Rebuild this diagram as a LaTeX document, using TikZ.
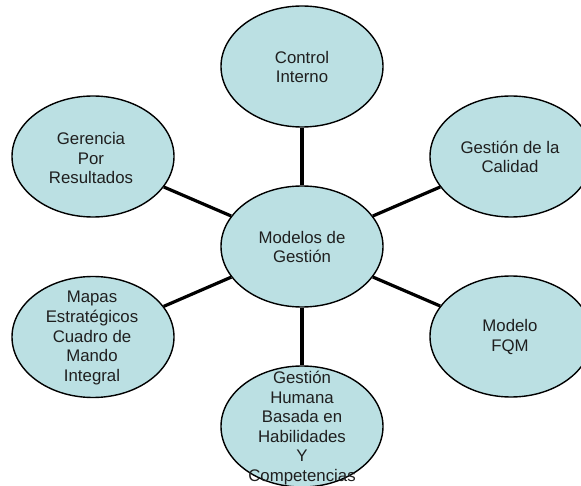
\documentclass[tikz,border=0pt]{standalone}
\usepackage{fontspec}
\setmainfont{Liberation Sans}
\usetikzlibrary{shapes.geometric}
\definecolor{bubble}{RGB}{187,224,227}
\tikzset{
  bub/.style={ellipse, draw=black, line width=1.4pt, fill=bubble,
    minimum width=162pt, minimum height=121pt, inner sep=0pt},
  lbl/.style={align=center, font=\fontsize{16.8}{19.6}\selectfont, text=black!88, inner sep=0pt},
  conn/.style={line width=3.2pt, black}
}
\begin{document}
\begin{tikzpicture}[x=1pt,y=-1pt]
\useasboundingbox (0,0) rectangle (581,486);
\clip (0,0) rectangle (581,486);
\fill[white] (0,0) rectangle (581,486);
% ellipses
\node[bub] (M) at (302,246.5) {};
\node[bub] (C) at (302,66.5) {};
\node[bub] (G) at (93,156.5) {};
\node[bub] (Q) at (511,156.5) {};
\node[bub] (P) at (93,337) {};
\node[bub] (F) at (511,336.5) {};
\node[bub] (H) at (302,426.5) {};
% connectors
\draw[conn] (M) -- (C);
\draw[conn] (M) -- (G);
\draw[conn] (M) -- (Q);
\draw[conn] (M) -- (P);
\draw[conn] (M) -- (F);
\draw[conn] (M) -- (H);
% labels
\node[lbl] (Mt) at (302,247) {Modelos de\\Gestión};
\node[lbl] (Ct) at (302,67) {Control\\Interno};
\node[lbl] (Gt) at (91,158) {Gerencia\\Por\\Resultados};
\node[lbl] (Qt) at (510,157) {Gestión de la\\Calidad};
\node[lbl] (Pt) at (92,338) {Mapas\\Estratégicos\\Cuadro de\\Mando\\Integral};
\node[lbl] (Ft) at (510,337) {Modelo\\FQM};
\node[lbl] (Ht) at (302,428) {Gestión\\Humana\\Basada en\\Habilidades\\Y\\Competencias};
\end{tikzpicture}
\end{document}
